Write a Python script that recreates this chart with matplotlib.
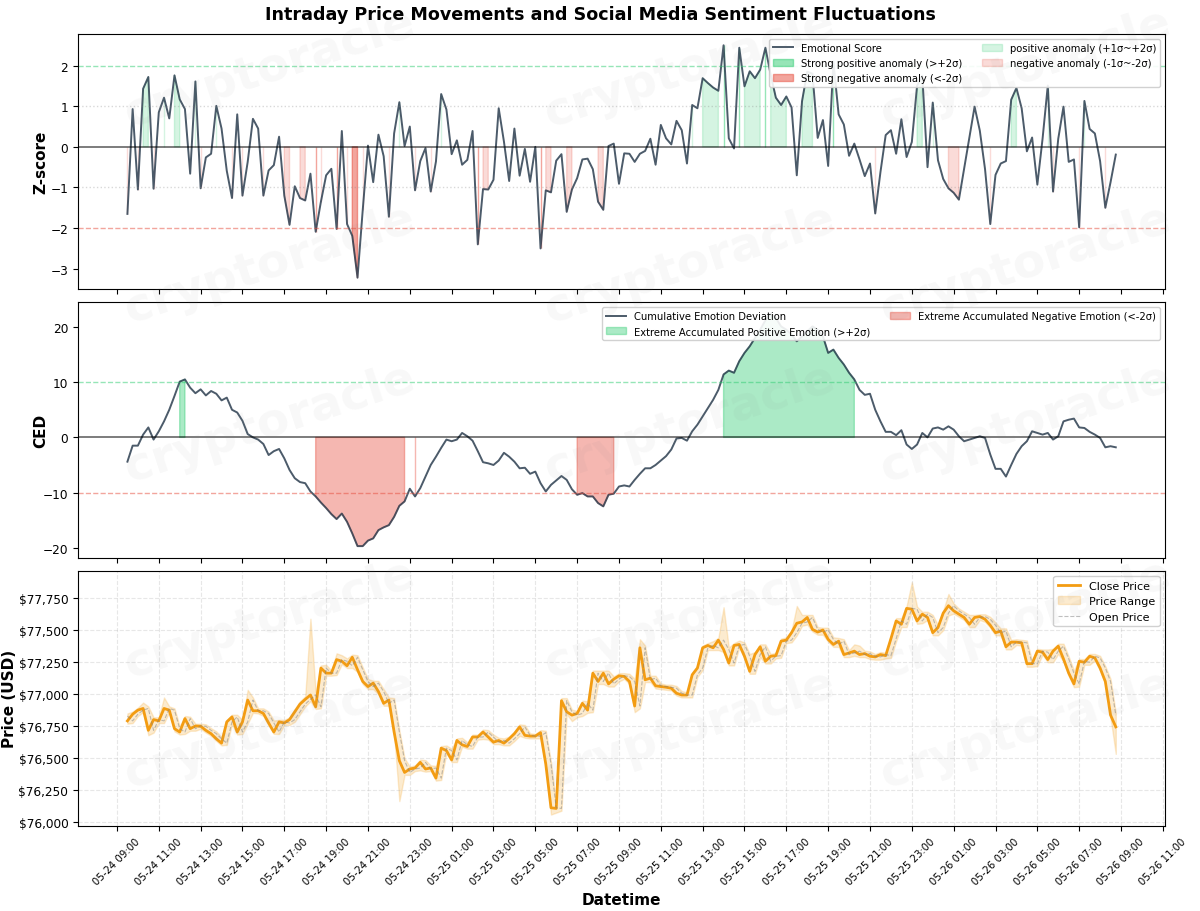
import numpy as np
import pandas as pd
import matplotlib
matplotlib.use("Agg")
import matplotlib.pyplot as plt
import matplotlib.dates as mdates
from matplotlib.ticker import FuncFormatter

# 15 minute bars, 05-24 09:30 -> 05-26 08:45
start_time = "2025-05-24 09:30"

z_score = [-1.65, 0.93, -1.05, 1.43, 1.72, -1.03, 0.85, 1.21, 0.70, 1.76,
           1.17, 0.93, -0.66, 1.61, -1.02, -0.26, -0.17, 1.01, 0.45, -0.59,
           -1.26, 0.80, -1.20, -0.37, 0.69, 0.45, -1.20, -0.58, -0.45, 0.25,
           -1.20, -1.92, -0.97, -1.26, -1.32, -0.66, -2.09, -1.35, -0.70, -0.54,
           -2.02, 0.39, -1.90, -2.19, -3.22, -1.55, 0.03, -0.87, 0.30, -0.23,
           -1.72, 0.33, 1.10, 0.02, 0.50, -1.07, -0.35, -0.03, -1.10, -0.36,
           1.30, 0.92, -0.18, 0.16, -0.44, -0.32, 0.39, -2.40, -1.04, -1.05,
           -0.81, 0.95, 0.13, -0.84, 0.45, -0.71, -0.05, -0.86, 0.00, -2.50,
           -1.07, -1.12, -0.34, -0.18, -1.60, -1.05, -0.77, -0.31, -0.29, -0.55,
           -1.35, -1.55, 0.02, 0.08, -0.91, -0.16, -0.17, -0.37, -0.17, -0.10,
           0.20, -0.44, 0.54, 0.21, 0.06, 0.64, 0.41, -0.41, 1.03, 0.95,
           1.69, 1.57, 1.46, 1.38, 2.50, 0.21, -0.04, 2.44, 1.49, 1.86,
           1.69, 1.90, 2.44, 1.78, 1.21, 1.03, 1.24, 0.97, -0.70, 1.12,
           1.85, 1.80, 0.22, 0.66, -0.47, 2.10, 0.80, 0.55, -0.22, 0.08,
           -0.31, -0.72, -0.41, -1.64, -0.62, 0.29, 0.41, -0.17, 0.68, -0.25,
           0.12, 1.50, 1.75, -0.50, 1.09, -0.33, -0.79, -1.02, -1.13, -1.30,
           -0.54, 0.22, 0.99, 0.40, -0.55, -1.90, -0.69, -0.41, -0.35, 1.16,
           1.45, 0.95, -0.11, 0.23, -0.93, 0.20, 1.51, -1.10, 0.20, 0.99,
           -0.37, -0.31, -1.98, 1.13, 0.44, 0.33, -0.35, -1.50, -0.87, -0.19]

ced = [-4.4, -1.5, -1.5, 0.5, 1.8, -0.4, 1.1, 2.9, 5.0, 7.5,
       10.1, 10.5, 9.0, 8.0, 8.7, 7.6, 8.4, 7.9, 6.7, 7.2,
       5.0, 4.5, 3.0, 0.6, 0.0, -0.4, -1.2, -3.2, -2.5, -2.1,
       -3.8, -5.9, -7.4, -8.1, -8.3, -9.8, -10.7, -11.8, -12.8, -13.9,
       -14.8, -13.8, -15.3, -17.4, -19.7, -19.7, -18.7, -18.3, -16.8, -16.3,
       -15.9, -14.4, -12.4, -11.6, -9.3, -10.7, -9.2, -7.1, -5.0, -3.5,
       -1.9, -0.4, -0.7, -0.4, 0.8, 0.2, -0.6, -2.5, -4.5, -4.7,
       -5.0, -4.2, -2.8, -3.5, -4.4, -5.6, -5.5, -6.6, -6.2, -8.3,
       -9.8, -8.6, -7.8, -7.0, -7.7, -9.4, -10.4, -10.1, -10.7, -10.7,
       -11.9, -12.5, -10.4, -10.2, -8.9, -8.7, -8.9, -7.7, -6.6, -5.6,
       -5.6, -5.0, -4.2, -3.4, -2.2, -0.2, -0.1, -0.6, 1.1, 2.3,
       3.8, 5.3, 6.8, 8.6, 11.4, 12.1, 11.7, 13.8, 15.3, 16.5,
       18.0, 19.5, 21.2, 22.4, 21.6, 20.1, 19.5, 18.6, 17.4, 18.3,
       19.2, 20.1, 19.5, 18.3, 15.3, 15.9, 14.4, 13.2, 11.7, 10.5,
       8.6, 7.7, 7.9, 5.0, 2.9, 1.0, 1.0, 0.4, 1.3, -1.3,
       -2.1, -1.3, 0.8, 0.0, 1.6, 1.8, 1.4, 2.0, 1.4, 0.2,
       -0.7, -0.4, -0.1, 0.2, -0.1, -3.1, -5.7, -5.7, -7.1, -5.0,
       -3.0, -1.6, -0.7, 1.1, 0.8, 0.5, 0.8, -0.4, 0.2, 2.9,
       3.2, 3.4, 1.8, 1.7, 1.0, 0.5, -0.1, -1.8, -1.6, -1.8]

close_price = [76792, 76844, 76876, 76889, 76718, 76802, 76792, 76889, 76876, 76731,
               76705, 76810, 76731, 76752, 76750, 76718, 76692, 76652, 76618, 76784,
               76823, 76705, 76784, 76955, 76871, 76871, 76850, 76776, 76705, 76784,
               76776, 76802, 76863, 76923, 76960, 76994, 76902, 77205, 77165, 77165,
               77271, 77258, 77223, 77289, 77192, 77100, 77060, 77087, 77021, 76929,
               76955, 76705, 76481, 76389, 76416, 76424, 76468, 76416, 76424, 76345,
               76579, 76560, 76487, 76639, 76605, 76592, 76666, 76666, 76705, 76666,
               76626, 76639, 76618, 76652, 76692, 76745, 76679, 76673, 76673, 76700,
               76455, 76113, 76108, 76950, 76863, 76837, 76850, 76929, 76876, 77165,
               77100, 77165, 77081, 77118, 77144, 77139, 77100, 76908, 77363, 77113,
               77126, 77066, 77060, 77055, 77047, 77008, 76994, 76994, 77152, 77205,
               77363, 77381, 77363, 77423, 77350, 77244, 77381, 77389, 77297, 77179,
               77310, 77371, 77258, 77297, 77302, 77415, 77423, 77481, 77555, 77565,
               77600, 77507, 77486, 77502, 77429, 77389, 77415, 77310, 77323, 77337,
               77310, 77318, 77297, 77292, 77310, 77302, 77434, 77573, 77547, 77671,
               77665, 77573, 77626, 77600, 77481, 77521, 77634, 77692, 77652, 77626,
               77600, 77547, 77600, 77607, 77586, 77539, 77481, 77494, 77371, 77407,
               77407, 77402, 77239, 77239, 77337, 77329, 77271, 77337, 77376, 77276,
               77165, 77081, 77258, 77250, 77297, 77284, 77205, 77100, 76837, 76745]

open_price = [76830, 76792, 76844, 76876, 76889, 76718, 76802, 76792, 76889, 76876,
              76731, 76705, 76810, 76731, 76752, 76750, 76718, 76692, 76652, 76618,
              76784, 76823, 76705, 76784, 76955, 76871, 76871, 76850, 76776, 76705,
              76784, 76776, 76802, 76863, 76923, 76960, 76994, 76902, 77205, 77165,
              77165, 77271, 77258, 77223, 77289, 77192, 77100, 77060, 77087, 77021,
              76929, 76955, 76705, 76481, 76389, 76416, 76424, 76468, 76416, 76424,
              76345, 76579, 76560, 76487, 76639, 76605, 76592, 76666, 76666, 76705,
              76666, 76626, 76639, 76618, 76652, 76692, 76745, 76679, 76673, 76673,
              76700, 76455, 76113, 76108, 76950, 76863, 76837, 76850, 76929, 76876,
              77165, 77100, 77165, 77081, 77118, 77144, 77139, 77100, 76908, 77363,
              77113, 77126, 77066, 77060, 77055, 77047, 77008, 76994, 76994, 77152,
              77205, 77363, 77381, 77363, 77423, 77350, 77244, 77381, 77389, 77297,
              77179, 77310, 77371, 77258, 77297, 77302, 77415, 77423, 77481, 77555,
              77565, 77600, 77507, 77486, 77502, 77429, 77389, 77415, 77310, 77323,
              77337, 77310, 77318, 77297, 77292, 77310, 77302, 77434, 77573, 77547,
              77671, 77665, 77573, 77626, 77600, 77481, 77521, 77634, 77692, 77652,
              77626, 77600, 77547, 77600, 77607, 77586, 77539, 77481, 77494, 77371,
              77407, 77407, 77402, 77239, 77239, 77337, 77329, 77271, 77337, 77376,
              77276, 77165, 77081, 77258, 77250, 77297, 77284, 77205, 77100, 76837]

high_price = [76850, 76865, 76895, 76935, 76905, 76820, 76820, 76975, 76905, 76890,
              76750, 76830, 76825, 76770, 76770, 76765, 76735, 76710, 76665, 76800,
              76840, 76840, 76800, 77035, 76975, 76890, 76890, 76865, 76795, 76800,
              76800, 76820, 76885, 76945, 76985, 77590, 77015, 77225, 77230, 77185,
              77320, 77305, 77280, 77310, 77305, 77210, 77120, 77105, 77105, 77040,
              76975, 76970, 76720, 76500, 76435, 76445, 76490, 76485, 76445, 76440,
              76595, 76600, 76575, 76655, 76660, 76625, 76685, 76685, 76725, 76720,
              76685, 76660, 76655, 76670, 76710, 76765, 76760, 76695, 76690, 76720,
              76715, 76470, 76130, 76970, 76970, 76880, 76870, 76950, 76945, 77185,
              77185, 77185, 77185, 77140, 77165, 77165, 77160, 77120, 77430, 77380,
              77145, 77145, 77085, 77075, 77075, 77065, 77025, 77015, 77170, 77225,
              77380, 77400, 77415, 77440, 77680, 77365, 77400, 77420, 77405, 77315,
              77330, 77390, 77390, 77315, 77325, 77435, 77445, 77500, 77690, 77620,
              77620, 77620, 77525, 77520, 77520, 77445, 77440, 77430, 77345, 77390,
              77380, 77340, 77335, 77315, 77330, 77325, 77455, 77595, 77595, 77690,
              77876, 77685, 77645, 77645, 77620, 77540, 77655, 77784, 77710, 77670,
              77645, 77620, 77620, 77625, 77625, 77605, 77560, 77515, 77515, 77425,
              77430, 77425, 77420, 77260, 77355, 77350, 77350, 77355, 77395, 77395,
              77295, 77185, 77275, 77275, 77315, 77315, 77300, 77220, 77120, 76855]

low_price = [76770, 76775, 76830, 76860, 76680, 76700, 76775, 76775, 76860, 76710,
             76685, 76690, 76715, 76715, 76730, 76700, 76675, 76635, 76600, 76605,
             76765, 76685, 76690, 76770, 76855, 76850, 76830, 76755, 76690, 76690,
             76760, 76760, 76785, 76845, 76905, 76945, 76885, 76890, 77145, 77145,
             77150, 77235, 77205, 77205, 77175, 77080, 77040, 77040, 77000, 76910,
             76910, 76685, 76165, 76370, 76370, 76400, 76405, 76395, 76400, 76325,
             76330, 76540, 76470, 76470, 76590, 76575, 76575, 76645, 76650, 76645,
             76610, 76610, 76600, 76600, 76635, 76675, 76660, 76655, 76655, 76655,
             76435, 76060, 76075, 76090, 76845, 76790, 76820, 76830, 76855, 76860,
             77080, 77080, 77060, 77060, 77100, 77120, 77080, 76860, 76890, 77095,
             77095, 77045, 77040, 77035, 77030, 76990, 76975, 76975, 76975, 77135,
             77190, 77345, 77345, 77345, 77330, 77225, 77225, 77365, 77280, 77160,
             77160, 77290, 77240, 77240, 77280, 77285, 77400, 77405, 77460, 77535,
             77545, 77490, 77465, 77465, 77410, 77370, 77370, 77290, 77290, 77300,
             77290, 77290, 77275, 77270, 77270, 77280, 77285, 77415, 77525, 77525,
             77645, 77550, 77555, 77580, 77460, 77460, 77500, 77615, 77630, 77605,
             77580, 77525, 77525, 77580, 77565, 77520, 77460, 77460, 77350, 77350,
             77385, 77380, 77215, 77215, 77220, 77310, 77250, 77250, 77315, 77255,
             77145, 77055, 77060, 77230, 77230, 77265, 77185, 77080, 76815, 76534]

times = pd.date_range(start_time, periods=len(z_score), freq="15min")
z = np.array(z_score)
c = np.array(ced)

green = "#2ecc71"
red = "#e74c3c"
line_col = "#2c3e50"
orange = "#f39c12"

fig, (ax1, ax2, ax3) = plt.subplots(3, 1, figsize=(12, 9.12), dpi=100, sharex=True)
plt.subplots_adjust(left=0.065, right=0.971, top=0.962, bottom=0.093, hspace=0.05)

# --- z-score panel
ax1.plot(times, z, color=line_col, lw=1.4, alpha=0.85, label="Emotional Score")
ax1.fill_between(times, z, 0, where=z > 2, color=green, alpha=0.5, label="Strong positive anomaly (>+2σ)")
ax1.fill_between(times, z, 0, where=z < -2, color=red, alpha=0.5, label="Strong negative anomaly (<-2σ)")
ax1.fill_between(times, z, 0, where=(z > 1) & (z <= 2), color=green, alpha=0.2, label="positive anomaly (+1σ~+2σ)")
ax1.fill_between(times, z, 0, where=(z < -1) & (z >= -2), color=red, alpha=0.2, label="negative anomaly (-1σ~-2σ)")
ax1.axhline(0, color="black", lw=1.2, alpha=0.6)
ax1.axhline(2, color=green, ls="--", lw=1, alpha=0.5)
ax1.axhline(-2, color=red, ls="--", lw=1, alpha=0.5)
ax1.axhline(1, color="gray", ls=":", lw=1, alpha=0.3)
ax1.axhline(-1, color="gray", ls=":", lw=1, alpha=0.3)
ax1.set_ylabel("Z-score", fontsize=11, fontweight="bold")
ax1.yaxis.set_label_coords(-0.027, 0.5)
ax1.legend(loc="upper right", ncol=2, fontsize=7.2, framealpha=0.9)

# --- CED panel
ax2.plot(times, c, color=line_col, lw=1.4, alpha=0.85, label="Cumulative Emotion Deviation")
ax2.fill_between(times, c, 0, where=c > 10, color=green, alpha=0.4, label="Extreme Accumulated Positive Emotion (>+2σ)")
ax2.fill_between(times, c, 0, where=c < -10, color=red, alpha=0.4, label="Extreme Accumulated Negative Emotion (<-2σ)")
ax2.axhline(0, color="black", lw=1.2, alpha=0.6)
ax2.axhline(10, color=green, ls="--", lw=1, alpha=0.5)
ax2.axhline(-10, color=red, ls="--", lw=1, alpha=0.5)
ax2.set_ylabel("CED", fontsize=11, fontweight="bold")
ax2.yaxis.set_label_coords(-0.027, 0.5)
ax2.legend(loc="upper right", ncol=2, fontsize=7.2, framealpha=0.9)

# --- price panel
ax3.plot(times, close_price, color=orange, lw=2, label="Close Price")
ax3.fill_between(times, low_price, high_price, color=orange, alpha=0.2, label="Price Range")
ax3.plot(times, open_price, color="gray", ls="--", lw=0.8, alpha=0.5, label="Open Price")
ax3.set_ylabel("Price (USD)", fontsize=11, fontweight="bold")
ax3.yaxis.set_label_coords(-0.0565, 0.5)
ax3.yaxis.set_major_formatter(FuncFormatter(lambda v, p: f"${v:,.0f}"))
ax3.grid(True, ls="--", alpha=0.3)
ax3.legend(loc="upper right", fontsize=8, framealpha=0.9)

ax3.xaxis.set_major_locator(mdates.HourLocator(byhour=range(1, 24, 2)))
ax3.xaxis.set_major_formatter(mdates.DateFormatter("%m-%d %H:%M"))
for ax in (ax1, ax2, ax3):
    ax.tick_params(axis="y", labelsize=8.7)
ax3.tick_params(axis="x", labelsize=7.3)
plt.setp(ax3.get_xticklabels(), rotation=45)
ax3.set_xlabel("Datetime", fontsize=11, fontweight="bold")

fig.suptitle("Intraday Price Movements and Social Media Sentiment Fluctuations",
             fontsize=12.6, fontweight="bold", y=0.993)

# faint watermark
for yy in (0.925, 0.71, 0.535, 0.32, 0.2):
    for xx in (0.225, 0.575, 0.855):
        fig.text(xx, yy, "cryptoracle", fontsize=34, fontweight="bold", color="gray",
                 alpha=0.06, rotation=18, ha="center", va="center")

plt.savefig("out.png", dpi=100)
